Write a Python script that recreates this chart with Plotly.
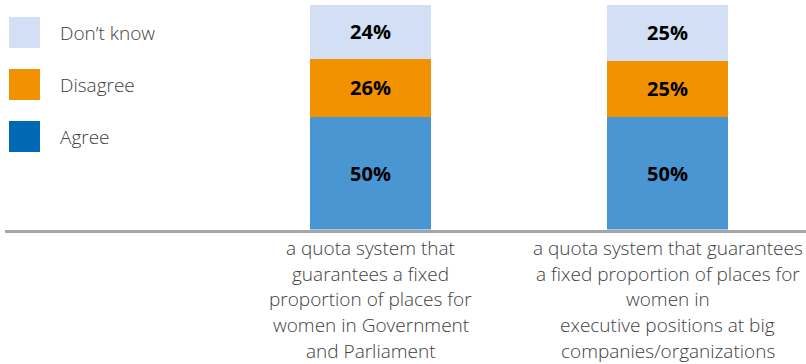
import plotly.graph_objects as go

# Survey results: support for gender quota systems
categories = [
    "a quota system that<br>guarantees a fixed<br>proportion of places for<br>women in Government<br>and Parliament",
    "a quota system that guarantees<br>a fixed proportion of places for<br>women in<br>executive positions at big<br>companies/organizations",
]
agree = [50, 50]
disagree = [26, 25]
dont_know = [24, 25]

series = [
    ("Agree", agree, "#4a96d3", "#0069b4"),
    ("Disagree", disagree, "#f39200", "#f39200"),
    ("Don\u2019t know", dont_know, "#d2dff4", "#d2dff4"),
]

W, H = 806, 364
FONT = "Open Sans, Segoe UI, sans-serif"
TEXT = "#404040"

xpos = list(range(len(categories)))

fig = go.Figure()
for name, vals, color, _ in series:
    fig.add_trace(go.Bar(
        x=xpos, y=vals, name=name,
        marker=dict(color=color, line=dict(width=0)),
        width=0.407,
        text=[f"<b>{v}%</b>" for v in vals],
        textposition="inside", insidetextanchor="middle",
        textfont=dict(family=FONT, size=20, color="#000000"),
        showlegend=False,
    ))

# Hand-drawn legend: squares plus labels, top item first
legend_items = list(reversed(series))
for i, (name, _, _, swatch) in enumerate(legend_items):
    top = 17 + 52 * i
    fig.add_shape(type="rect", xref="paper", yref="paper",
                  x0=9 / W, x1=40 / W, y0=1 - top / H, y1=1 - (top + 31) / H,
                  fillcolor=swatch, line=dict(width=0))
    fig.add_annotation(xref="paper", yref="paper", x=58 / W, y=1 - (top + 15.5) / H,
                       text=name, showarrow=False, xanchor="left", yanchor="middle",
                       font=dict(family=FONT, size=19, color=TEXT, weight=300))

# Category labels, one line per annotation
for xi, label in zip(xpos, categories):
    for j, line in enumerate(label.split("<br>")):
        baseline = 254 + 25.7 * j
        fig.add_annotation(xref="x", yref="paper", x=xi, y=1 - (baseline - 6) / H,
                           text=line, showarrow=False, xanchor="center", yanchor="middle",
                           font=dict(family=FONT, size=19, color=TEXT, weight=300))

fig.update_layout(
    width=W, height=H,
    barmode="stack",
    margin=dict(l=0, r=0, t=0, b=0),
    paper_bgcolor="white", plot_bgcolor="white",
    xaxis=dict(domain=[5 / W, 1], range=[-1.2306, 1.4663], showticklabels=False,
               showgrid=False, zeroline=False, showline=True,
               linecolor="#a6a6a6", linewidth=3, fixedrange=True),
    yaxis=dict(domain=[1 - 229.5 / H, 1], range=[0, 102], visible=False,
               showgrid=False, zeroline=False, fixedrange=True),
    uniformtext=dict(mode=False),
)

fig.write_html("out.html")
